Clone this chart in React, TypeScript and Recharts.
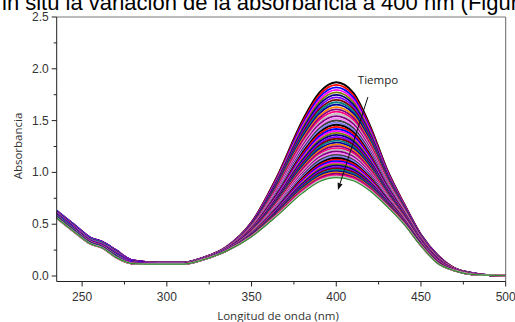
import React from 'react';
import { LineChart, Line, XAxis, YAxis, ReferenceLine, ReferenceDot } from 'recharts';

// Wavelength grid (nm) shared by all spectra
const wavelengths = [235, 245, 255, 262, 270, 280, 295, 310, 320, 335, 350, 365, 380, 390, 400, 410, 420, 430, 440, 450, 460, 470, 480, 490, 500];

// Absorbance spectra, first (top, t=0) to last (bottom)
const spectra: number[][] = [
  [0.63, 0.50, 0.37, 0.33, 0.25, 0.15, 0.13, 0.13, 0.17, 0.28, 0.52, 0.96, 1.50, 1.77, 1.87, 1.77, 1.45, 1.03, 0.70, 0.40, 0.20, 0.075, 0.03, 0.008, 0.005],
  [0.63, 0.50, 0.37, 0.33, 0.25, 0.15, 0.13, 0.13, 0.17, 0.279, 0.516, 0.95, 1.481, 1.747, 1.845, 1.747, 1.433, 1.02, 0.695, 0.397, 0.198, 0.075, 0.03, 0.008, 0.005],
  [0.63, 0.50, 0.37, 0.33, 0.25, 0.15, 0.129, 0.129, 0.169, 0.278, 0.512, 0.939, 1.462, 1.724, 1.82, 1.724, 1.416, 1.011, 0.689, 0.394, 0.196, 0.074, 0.029, 0.008, 0.005],
  [0.625, 0.495, 0.365, 0.325, 0.245, 0.15, 0.129, 0.129, 0.169, 0.277, 0.509, 0.929, 1.444, 1.701, 1.796, 1.702, 1.40, 1.001, 0.684, 0.391, 0.194, 0.073, 0.029, 0.008, 0.005],
  [0.62, 0.49, 0.36, 0.32, 0.24, 0.15, 0.128, 0.128, 0.168, 0.276, 0.505, 0.919, 1.425, 1.678, 1.772, 1.679, 1.383, 0.991, 0.679, 0.388, 0.191, 0.072, 0.028, 0.008, 0.005],
  [0.62, 0.49, 0.36, 0.32, 0.24, 0.15, 0.128, 0.128, 0.168, 0.275, 0.502, 0.91, 1.407, 1.656, 1.748, 1.657, 1.367, 0.982, 0.674, 0.386, 0.189, 0.072, 0.028, 0.008, 0.005],
  [0.62, 0.49, 0.36, 0.32, 0.24, 0.15, 0.128, 0.128, 0.167, 0.274, 0.498, 0.90, 1.389, 1.633, 1.724, 1.635, 1.35, 0.973, 0.668, 0.383, 0.187, 0.071, 0.028, 0.008, 0.005],
  [0.62, 0.49, 0.36, 0.32, 0.24, 0.145, 0.128, 0.128, 0.167, 0.273, 0.495, 0.89, 1.371, 1.611, 1.701, 1.614, 1.334, 0.964, 0.663, 0.38, 0.185, 0.071, 0.028, 0.008, 0.005],
  [0.62, 0.49, 0.36, 0.32, 0.24, 0.14, 0.127, 0.127, 0.166, 0.272, 0.491, 0.88, 1.353, 1.589, 1.677, 1.592, 1.318, 0.954, 0.658, 0.377, 0.183, 0.07, 0.027, 0.008, 0.005],
  [0.615, 0.485, 0.355, 0.315, 0.235, 0.14, 0.127, 0.127, 0.166, 0.271, 0.488, 0.871, 1.336, 1.568, 1.654, 1.571, 1.302, 0.945, 0.653, 0.374, 0.181, 0.07, 0.027, 0.008, 0.005],
  [0.61, 0.48, 0.35, 0.31, 0.23, 0.14, 0.126, 0.126, 0.165, 0.27, 0.484, 0.861, 1.318, 1.546, 1.631, 1.549, 1.286, 0.936, 0.648, 0.371, 0.179, 0.069, 0.026, 0.008, 0.005],
  [0.61, 0.48, 0.35, 0.31, 0.23, 0.14, 0.126, 0.126, 0.165, 0.269, 0.481, 0.852, 1.301, 1.526, 1.609, 1.529, 1.271, 0.928, 0.643, 0.369, 0.177, 0.068, 0.026, 0.008, 0.005],
  [0.61, 0.48, 0.35, 0.31, 0.23, 0.14, 0.125, 0.125, 0.164, 0.268, 0.477, 0.843, 1.284, 1.505, 1.587, 1.508, 1.256, 0.919, 0.638, 0.366, 0.175, 0.067, 0.025, 0.008, 0.005],
  [0.61, 0.48, 0.35, 0.31, 0.23, 0.14, 0.125, 0.125, 0.164, 0.267, 0.474, 0.834, 1.268, 1.485, 1.565, 1.488, 1.241, 0.911, 0.634, 0.364, 0.174, 0.067, 0.025, 0.008, 0.005],
  [0.61, 0.48, 0.35, 0.31, 0.23, 0.14, 0.125, 0.125, 0.163, 0.266, 0.47, 0.825, 1.252, 1.465, 1.543, 1.468, 1.226, 0.902, 0.629, 0.361, 0.172, 0.066, 0.025, 0.008, 0.005],
  [0.605, 0.475, 0.35, 0.31, 0.225, 0.14, 0.125, 0.125, 0.163, 0.265, 0.467, 0.817, 1.236, 1.445, 1.522, 1.449, 1.212, 0.894, 0.625, 0.359, 0.17, 0.066, 0.025, 0.008, 0.005],
  [0.60, 0.47, 0.35, 0.31, 0.22, 0.14, 0.124, 0.124, 0.162, 0.264, 0.464, 0.808, 1.219, 1.425, 1.501, 1.429, 1.197, 0.886, 0.62, 0.356, 0.168, 0.065, 0.024, 0.008, 0.005],
  [0.60, 0.47, 0.345, 0.305, 0.22, 0.14, 0.124, 0.124, 0.162, 0.263, 0.461, 0.80, 1.204, 1.406, 1.481, 1.41, 1.183, 0.878, 0.616, 0.354, 0.166, 0.065, 0.024, 0.008, 0.005],
  [0.60, 0.47, 0.34, 0.30, 0.22, 0.14, 0.123, 0.123, 0.161, 0.262, 0.458, 0.791, 1.188, 1.386, 1.46, 1.391, 1.169, 0.869, 0.611, 0.351, 0.164, 0.064, 0.023, 0.008, 0.005],
  [0.60, 0.47, 0.34, 0.30, 0.22, 0.14, 0.123, 0.123, 0.161, 0.261, 0.455, 0.783, 1.173, 1.368, 1.44, 1.373, 1.155, 0.862, 0.607, 0.349, 0.163, 0.064, 0.023, 0.008, 0.005],
  [0.60, 0.47, 0.34, 0.30, 0.22, 0.14, 0.123, 0.123, 0.16, 0.26, 0.451, 0.774, 1.157, 1.349, 1.419, 1.354, 1.141, 0.854, 0.602, 0.346, 0.161, 0.063, 0.023, 0.008, 0.005],
  [0.595, 0.465, 0.34, 0.30, 0.215, 0.135, 0.123, 0.123, 0.16, 0.26, 0.449, 0.766, 1.143, 1.331, 1.40, 1.336, 1.128, 0.846, 0.598, 0.344, 0.159, 0.063, 0.023, 0.008, 0.005],
  [0.59, 0.46, 0.34, 0.30, 0.21, 0.13, 0.122, 0.122, 0.159, 0.259, 0.446, 0.758, 1.128, 1.312, 1.381, 1.318, 1.115, 0.838, 0.594, 0.341, 0.157, 0.062, 0.022, 0.008, 0.005],
  [0.59, 0.46, 0.34, 0.30, 0.21, 0.13, 0.122, 0.122, 0.159, 0.258, 0.443, 0.75, 1.114, 1.295, 1.362, 1.301, 1.102, 0.831, 0.59, 0.339, 0.156, 0.062, 0.022, 0.008, 0.005],
  [0.59, 0.46, 0.34, 0.30, 0.21, 0.13, 0.121, 0.121, 0.159, 0.257, 0.44, 0.742, 1.099, 1.277, 1.343, 1.283, 1.089, 0.824, 0.585, 0.337, 0.154, 0.061, 0.021, 0.008, 0.005],
  [0.59, 0.46, 0.335, 0.295, 0.21, 0.13, 0.121, 0.121, 0.159, 0.256, 0.437, 0.735, 1.085, 1.26, 1.325, 1.266, 1.077, 0.817, 0.581, 0.335, 0.153, 0.061, 0.021, 0.008, 0.005],
  [0.59, 0.46, 0.33, 0.29, 0.21, 0.13, 0.121, 0.121, 0.158, 0.255, 0.434, 0.727, 1.071, 1.243, 1.306, 1.249, 1.064, 0.809, 0.577, 0.333, 0.151, 0.06, 0.021, 0.008, 0.005],
  [0.585, 0.455, 0.33, 0.29, 0.205, 0.13, 0.121, 0.121, 0.158, 0.255, 0.432, 0.72, 1.058, 1.226, 1.288, 1.233, 1.052, 0.802, 0.574, 0.331, 0.15, 0.06, 0.021, 0.008, 0.005],
  [0.58, 0.45, 0.33, 0.29, 0.20, 0.13, 0.12, 0.12, 0.157, 0.254, 0.429, 0.712, 1.044, 1.209, 1.27, 1.216, 1.039, 0.795, 0.57, 0.328, 0.148, 0.059, 0.02, 0.008, 0.005],
  [0.58, 0.45, 0.33, 0.29, 0.20, 0.13, 0.12, 0.12, 0.157, 0.253, 0.426, 0.705, 1.031, 1.193, 1.253, 1.20, 1.027, 0.789, 0.566, 0.326, 0.147, 0.059, 0.02, 0.008, 0.005],
  [0.58, 0.45, 0.33, 0.29, 0.20, 0.13, 0.12, 0.12, 0.156, 0.252, 0.423, 0.698, 1.017, 1.177, 1.235, 1.184, 1.015, 0.782, 0.562, 0.324, 0.145, 0.058, 0.02, 0.008, 0.005],
  [0.58, 0.45, 0.33, 0.29, 0.20, 0.13, 0.12, 0.12, 0.156, 0.252, 0.421, 0.691, 1.005, 1.162, 1.219, 1.169, 1.004, 0.776, 0.559, 0.322, 0.144, 0.058, 0.02, 0.008, 0.005],
  [0.58, 0.45, 0.33, 0.29, 0.20, 0.13, 0.119, 0.119, 0.155, 0.251, 0.418, 0.684, 0.992, 1.146, 1.202, 1.153, 0.993, 0.769, 0.555, 0.32, 0.142, 0.057, 0.019, 0.008, 0.005],
  [0.58, 0.45, 0.325, 0.285, 0.20, 0.13, 0.119, 0.119, 0.155, 0.251, 0.416, 0.678, 0.98, 1.131, 1.186, 1.138, 0.982, 0.763, 0.552, 0.318, 0.141, 0.057, 0.019, 0.008, 0.005],
  [0.58, 0.45, 0.32, 0.28, 0.20, 0.13, 0.119, 0.119, 0.155, 0.25, 0.413, 0.671, 0.967, 1.116, 1.17, 1.123, 0.971, 0.756, 0.548, 0.316, 0.139, 0.056, 0.019, 0.008, 0.005],
  [0.575, 0.445, 0.32, 0.28, 0.195, 0.13, 0.119, 0.119, 0.155, 0.249, 0.411, 0.665, 0.956, 1.101, 1.155, 1.109, 0.96, 0.75, 0.545, 0.315, 0.138, 0.056, 0.019, 0.008, 0.005],
  [0.57, 0.44, 0.32, 0.28, 0.19, 0.13, 0.118, 0.118, 0.154, 0.248, 0.409, 0.658, 0.944, 1.086, 1.139, 1.094, 0.949, 0.744, 0.541, 0.313, 0.136, 0.055, 0.018, 0.008, 0.005],
  [0.57, 0.44, 0.32, 0.28, 0.19, 0.13, 0.118, 0.118, 0.154, 0.248, 0.407, 0.652, 0.932, 1.072, 1.124, 1.08, 0.939, 0.738, 0.538, 0.311, 0.135, 0.055, 0.018, 0.008, 0.005],
  [0.57, 0.44, 0.32, 0.28, 0.19, 0.13, 0.118, 0.118, 0.153, 0.247, 0.404, 0.645, 0.92, 1.058, 1.108, 1.066, 0.928, 0.732, 0.534, 0.309, 0.134, 0.054, 0.018, 0.008, 0.005],
  [0.57, 0.44, 0.32, 0.28, 0.19, 0.125, 0.118, 0.118, 0.153, 0.247, 0.402, 0.639, 0.909, 1.044, 1.094, 1.053, 0.918, 0.726, 0.531, 0.307, 0.133, 0.054, 0.018, 0.008, 0.005],
  [0.57, 0.44, 0.32, 0.28, 0.19, 0.12, 0.117, 0.117, 0.153, 0.246, 0.40, 0.633, 0.898, 1.03, 1.079, 1.039, 0.908, 0.72, 0.528, 0.305, 0.131, 0.054, 0.017, 0.008, 0.005],
  [0.57, 0.44, 0.32, 0.28, 0.19, 0.12, 0.117, 0.117, 0.153, 0.245, 0.398, 0.628, 0.888, 1.018, 1.065, 1.027, 0.899, 0.715, 0.525, 0.304, 0.13, 0.054, 0.017, 0.008, 0.005],
  [0.57, 0.44, 0.32, 0.28, 0.19, 0.12, 0.117, 0.117, 0.152, 0.244, 0.395, 0.622, 0.877, 1.005, 1.051, 1.014, 0.889, 0.71, 0.522, 0.302, 0.129, 0.053, 0.017, 0.008, 0.005],
  [0.57, 0.44, 0.32, 0.28, 0.19, 0.12, 0.117, 0.117, 0.152, 0.244, 0.393, 0.617, 0.867, 0.993, 1.038, 1.002, 0.88, 0.705, 0.519, 0.301, 0.128, 0.053, 0.017, 0.008, 0.005],
  [0.57, 0.44, 0.32, 0.28, 0.19, 0.12, 0.116, 0.116, 0.152, 0.243, 0.391, 0.611, 0.857, 0.98, 1.025, 0.989, 0.871, 0.699, 0.516, 0.299, 0.126, 0.052, 0.016, 0.008, 0.005],
  [0.565, 0.435, 0.315, 0.275, 0.185, 0.12, 0.116, 0.116, 0.152, 0.243, 0.389, 0.606, 0.847, 0.968, 1.012, 0.977, 0.862, 0.694, 0.514, 0.298, 0.125, 0.052, 0.016, 0.008, 0.005],
  [0.56, 0.43, 0.31, 0.27, 0.18, 0.12, 0.116, 0.116, 0.151, 0.242, 0.387, 0.60, 0.837, 0.956, 0.999, 0.965, 0.853, 0.689, 0.511, 0.296, 0.124, 0.051, 0.016, 0.008, 0.005],
  [0.56, 0.43, 0.31, 0.27, 0.18, 0.12, 0.116, 0.116, 0.151, 0.242, 0.386, 0.595, 0.828, 0.944, 0.987, 0.954, 0.845, 0.684, 0.508, 0.295, 0.123, 0.051, 0.016, 0.008, 0.005],
  [0.56, 0.43, 0.31, 0.27, 0.18, 0.12, 0.115, 0.115, 0.151, 0.241, 0.384, 0.59, 0.818, 0.932, 0.974, 0.942, 0.836, 0.679, 0.505, 0.293, 0.122, 0.051, 0.015, 0.008, 0.005],
  [0.56, 0.43, 0.31, 0.27, 0.18, 0.12, 0.115, 0.115, 0.151, 0.241, 0.382, 0.585, 0.809, 0.921, 0.962, 0.931, 0.828, 0.675, 0.503, 0.292, 0.121, 0.051, 0.015, 0.008, 0.005],
  [0.56, 0.43, 0.31, 0.27, 0.18, 0.12, 0.115, 0.115, 0.15, 0.24, 0.38, 0.58, 0.80, 0.91, 0.95, 0.92, 0.82, 0.67, 0.50, 0.29, 0.12, 0.05, 0.015, 0.008, 0.005],
];

// Origin-style colour increment list, cycled over the curves; last curve green
const colorCycle = [
  '#000000', '#FF0000', '#0000FF', '#FF00FF', '#808000', '#000080', '#8000FF', '#800000', '#008080',
  '#0000A0', '#FF8000', '#800080', '#FF0080', '#C0C0C0', '#800080', '#FF80FF', '#404040', '#8080FF',
];
const lastColor = '#2E8B2E';

const xTicks = [250, 275, 300, 325, 350, 375, 400, 425, 450, 475, 500];
const yTicks = [0, 0.25, 0.5, 0.75, 1, 1.25, 1.5, 1.75, 2, 2.25, 2.5];

const titleText = 'in situ la variación de la absorbancia a 400 nm (Figura 5).';
const xTitle = 'Longitud de onda (nm)';
const yTitle = 'Absorbancia';
const arrowText = 'Tiempo';

const tickFont = '"Liberation Sans", Arial, sans-serif';
const labelFont = '"Open Sans", "Liberation Sans", sans-serif';

const YTick = (props: any) => {
  const { x, y, payload } = props;
  const v = payload.value as number;
  const major = Math.abs(v * 2 - Math.round(v * 2)) < 1e-6;
  return (
    <g>
      <line x1={x} x2={x - (major ? 5 : 3)} y1={y} y2={y} stroke="#222" strokeWidth={1} />
      {major && (
        <text x={x - 8} y={y} textAnchor="end" dominantBaseline="central" fontSize={12} fill="#333" fontFamily={tickFont}>
          {v.toFixed(1)}
        </text>
      )}
    </g>
  );
};

const XTick = (props: any) => {
  const { x, y, payload } = props;
  const v = payload.value as number;
  const major = v % 50 === 0;
  return (
    <g>
      <line x1={x} x2={x} y1={y} y2={y + (major ? 5 : 3)} stroke="#222" strokeWidth={1} />
      {major && (
        <text x={x} y={y + 15.5} textAnchor="middle" dominantBaseline="central" fontSize={12} fill="#333" fontFamily={tickFont}>
          {v}
        </text>
      )}
    </g>
  );
};

const ArrowShape = (props: any) => {
  const { x1, y1, x2, y2 } = props;
  const ang = Math.atan2(y2 - y1, x2 - x1);
  const len = 7;
  const w = 2.6;
  const bx = x2 - len * Math.cos(ang);
  const by = y2 - len * Math.sin(ang);
  const px = -Math.sin(ang) * w;
  const py = Math.cos(ang) * w;
  return (
    <g>
      <line x1={x1} y1={y1} x2={bx} y2={by} stroke="#111" strokeWidth={1} />
      <polygon points={`${x2},${y2} ${bx + px},${by + py} ${bx - px},${by - py}`} fill="#111" />
    </g>
  );
};

const TextShape = (props: any) => (
  <text x={props.cx} y={props.cy} textAnchor="middle" dominantBaseline="central" fontSize={11.5} fill="#222" fontFamily={labelFont}>
    {arrowText}
  </text>
);

export default function App() {
  return (
    <div style={{ position: 'absolute', left: 0, top: 0, width: 515, height: 322, background: '#fff', overflow: 'hidden' }}>
      <LineChart width={515} height={322} margin={{ top: 17, right: 9.3, bottom: 0.5, left: 0 }}>
        <XAxis
          type="number"
          dataKey="x"
          domain={[235, 500]}
          allowDataOverflow
          ticks={xTicks}
          interval={0}
          height={40}
          tickSize={0}
          tickMargin={0}
          tickLine={false}
          tick={<XTick />}
          axisLine={{ stroke: '#222' }}
        />
        <YAxis
          type="number"
          domain={[-0.053, 2.5]}
          allowDataOverflow
          ticks={yTicks}
          interval={0}
          width={56.7}
          tickSize={0}
          tickMargin={0}
          tickLine={false}
          tick={<YTick />}
          axisLine={{ stroke: '#222' }}
        />
        {spectra.map((row, k) => {
          const last = k === spectra.length - 1;
          return (
            <Line
              key={k}
              data={row.map((v, i) => ({ x: wavelengths[i], y: v }))}
              dataKey="y"
              type="monotone"
              stroke={last ? lastColor : colorCycle[k % colorCycle.length]}
              strokeWidth={last ? 1.2 : 1.8}
              dot={false}
              activeDot={false}
              isAnimationActive={false}
            />
          );
        })}
        <ReferenceLine y={2.5} stroke="#777" strokeWidth={1} />
        <ReferenceLine x={500} stroke="#666" strokeWidth={1} />
        <ReferenceLine
          segment={[{ x: 418.7, y: 1.728 }, { x: 401, y: 0.83 }]}
          shape={<ArrowShape />}
        />
        <ReferenceDot x={424.6} y={1.9} r={0} shape={<TextShape />} />
      </LineChart>
      <svg width={515} height={322} style={{ position: 'absolute', left: 0, top: 0, pointerEvents: 'none' }}>
        <text x={2} y={9.5} fontSize={22} fill="#000" fontFamily={tickFont}>{titleText}</text>
        <text x={278} y={315} textAnchor="middle" dominantBaseline="central" fontSize={11.5} fill="#333" fontFamily={labelFont}>{xTitle}</text>
        <text x={17} y={146} transform="rotate(-90 17 146)" textAnchor="middle" dominantBaseline="central" fontSize={11.5} fill="#333" fontFamily={labelFont}>{yTitle}</text>
      </svg>
    </div>
  );
}
